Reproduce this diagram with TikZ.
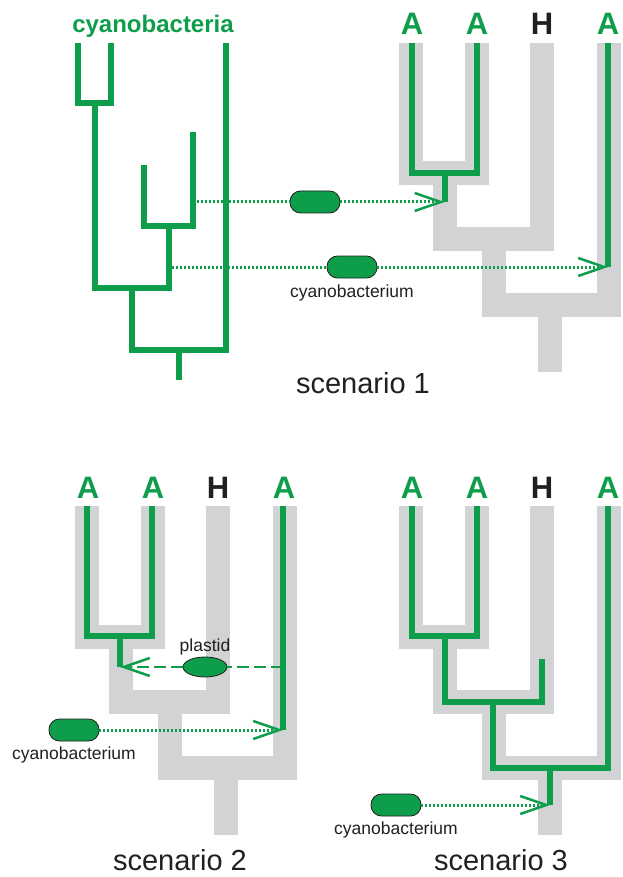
\documentclass[tikz,border=0pt]{standalone}
\usepackage{fontspec}
\setmainfont{Liberation Sans}
\usetikzlibrary{arrows.meta, shapes.geometric, positioning}
\definecolor{cyangreen}{RGB}{14,158,75}
\definecolor{treegray}{RGB}{209,211,212}
\definecolor{inkblack}{RGB}{35,31,32}

\begin{document}
\begin{tikzpicture}[x=1pt, y=-1pt,
    hostline/.style={treegray, line width=24pt, line join=miter},
    plastidline/.style={cyangreen, line width=6pt, line join=miter},
    taxon/.style={anchor=base, inner sep=0pt, font=\fontsize{31}{31}\selectfont\bfseries},
    cell/.style={draw=inkblack, fill=cyangreen, line width=0.8pt, rounded corners=10.5pt,
      minimum width=50pt, minimum height=22pt, inner sep=0pt},
    plastidcell/.style={ellipse, draw=inkblack, fill=cyangreen, line width=0.8pt,
      minimum width=44pt, minimum height=20pt, inner sep=0pt},
    smalltext/.style={font=\fontsize{17.5}{17.5}\selectfont, text=inkblack, inner sep=0pt},
    scenariotext/.style={font=\fontsize{29}{29}\selectfont, text=inkblack, inner sep=0pt, anchor=base},
    dotline/.style={cyangreen, line width=3pt, dash pattern=on 2pt off 2pt},
    dashline/.style={cyangreen, line width=2.8pt, dash pattern=on 12pt off 5pt},
    barb/.style={-{Straight Barb[length=26pt, width=18pt, line width=2.5pt]}},
    speciestree/.pic={
      \draw[hostline] (411,43) -- (411,173.5) -- (477,173.5) -- (477,43);
      \draw[hostline] (445,173.5) -- (445,239) -- (542,239) -- (542,43);
      \draw[hostline] (494,239) -- (494,305) -- (609,305) -- (609,43);
      \draw[hostline] (550,305) -- (550,372);
      \node[taxon, cyangreen] (-a1) at (412,35) {A};
      \node[taxon, cyangreen] (-a2) at (477,35) {A};
      \node[taxon, inkblack] (-h) at (542,35) {H};
      \node[taxon, cyangreen] (-a3) at (608,35) {A};
    }]

  \fill[white] (0,0) rectangle (622,877);
  \useasboundingbox (0,0) rectangle (622,877);

  % host trees
  \pic (s1) at (0,0) {speciestree};
  \pic (s2) at (-324,463) {speciestree};
  \pic (s3) at (0,463) {speciestree};

  % scenario 1
  \node[anchor=base, inner sep=0pt, text=cyangreen, font=\fontsize{24}{24}\selectfont\bfseries] (cyano) at (153,33) {cyanobacteria};
  \draw[plastidline] (78,43) -- (78,103) -- (111,103) -- (111,43);
  \draw[plastidline] (144,165) -- (144,226) -- (193,226) -- (193,132);
  \draw[plastidline] (95,103) -- (95,288) -- (169,288) -- (169,226);
  \draw[plastidline] (132,288) -- (132,350) -- (226,350) -- (226,43);
  \draw[plastidline] (179,350) -- (179,380);

  \coordinate (src1) at (197,202);
  \coordinate (tip1) at (444.5,202);
  \coordinate (src2) at (172,267);
  \coordinate (tip2) at (608,267);
  \node[cell] (cell1) at (315,202) {};
  \node[cell] (cell2) at (352,267) {};
  \node[smalltext, below=6pt of cell2] (cell2lab) {cyanobacterium};
  \draw[dotline] (src1) -- (cell1);
  \draw[dotline, barb] (cell1) -- (tip1);
  \draw[dotline] (src2) -- (cell2);
  \draw[dotline, barb] (cell2) -- (tip2);

  \draw[plastidline] (412,43) -- (412,173) -- (477,173) -- (477,43);
  \draw[plastidline] (444.5,173) -- (tip1);
  \draw[plastidline] (608,43) -- (tip2);
  \node[scenariotext] (scen1) at (363,393) {scenario 1};

  % scenario 2
  \coordinate (src3) at (283,667);
  \coordinate (tip3) at (120,667);
  \coordinate (tip4) at (283,730);
  \node[plastidcell] (plastid) at (205,667) {};
  \node[smalltext, above=1.5pt of plastid] (plastidlab) {plastid};
  \node[cell] (cell4) at (74,730) {};
  \node[smalltext, below=5pt of cell4] (cell4lab) {cyanobacterium};
  \draw[dashline] (src3) -- (plastid);
  \draw[dashline, barb] (plastid) -- (tip3);
  \draw[dotline, barb] (cell4) -- (tip4);

  \draw[plastidline] (87,506) -- (87,636) -- (152,636) -- (152,506);
  \draw[plastidline] (120,636) -- (tip3);
  \draw[plastidline] (283,506) -- (tip4);
  \node[scenariotext] (scen2) at (180,870) {scenario 2};

  % scenario 3
  \coordinate (tip5) at (550,805);
  \node[cell] (cell5) at (396,805) {};
  \node[smalltext, below=5pt of cell5] (cell5lab) {cyanobacterium};
  \draw[dotline, barb] (cell5) -- (tip5);

  \draw[plastidline] (412,506) -- (412,636) -- (477,636) -- (477,506);
  \draw[plastidline] (445,636) -- (445,702) -- (542,702) -- (542,659);
  \draw[plastidline] (493,702) -- (493,768) -- (608,768) -- (608,506);
  \draw[plastidline] (550,768) -- (tip5);
  \node[scenariotext] (scen3) at (501,870) {scenario 3};

\end{tikzpicture}
\end{document}
